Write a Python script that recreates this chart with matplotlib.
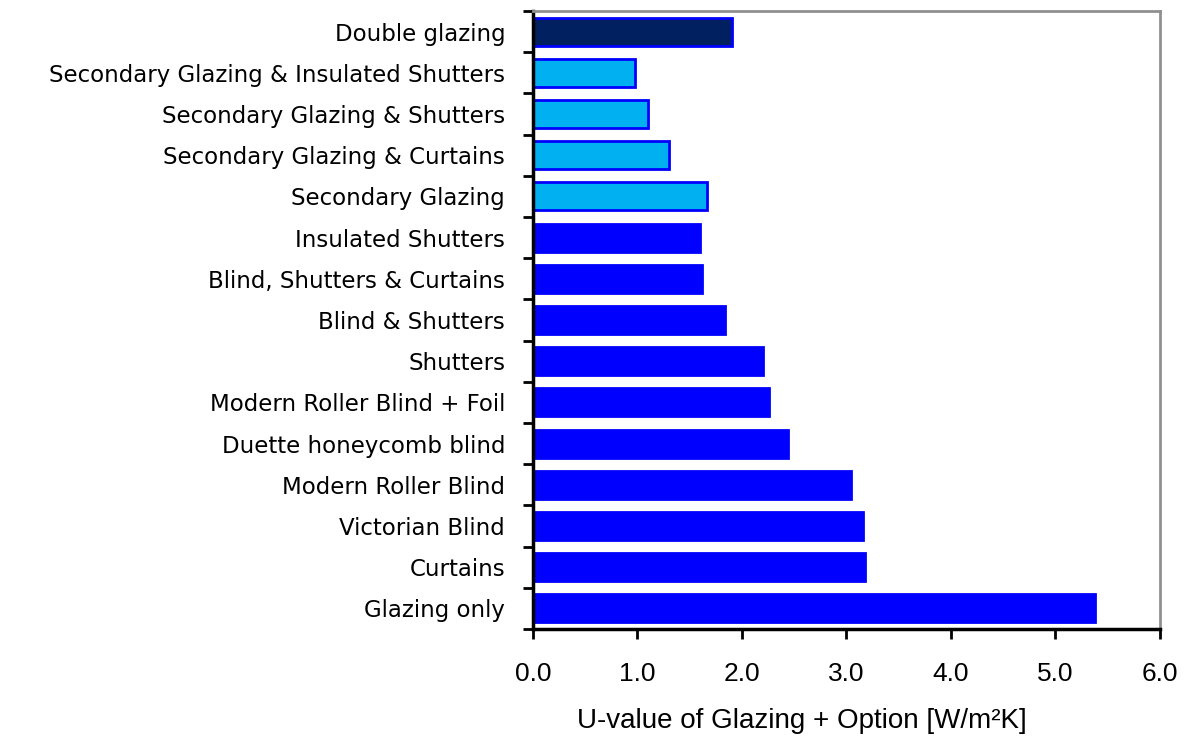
import numpy as np
import matplotlib.pyplot as plt
from matplotlib.ticker import FixedLocator

# Data (top to bottom as shown)
labels = [
    "Double glazing",
    "Secondary Glazing & Insulated Shutters",
    "Secondary Glazing & Shutters",
    "Secondary Glazing & Curtains",
    "Secondary Glazing",
    "Insulated Shutters",
    "Blind, Shutters & Curtains",
    "Blind & Shutters",
    "Shutters",
    "Modern Roller Blind + Foil",
    "Duette honeycomb blind",
    "Modern Roller Blind",
    "Victorian Blind",
    "Curtains",
    "Glazing only",
]
u_values = [1.91, 0.98, 1.10, 1.30, 1.67, 1.60, 1.62, 1.84,
            2.20, 2.26, 2.44, 3.04, 3.16, 3.18, 5.38]
groups = ["double", "secondary", "secondary", "secondary", "secondary"] + ["single"] * 10

colors = {"double": "#002060", "secondary": "#00B0F0", "single": "#0000FF"}

fig = plt.figure(figsize=(11.87, 7.4), dpi=100)
ax = fig.add_axes([0.449, 0.150, 0.528, 0.835])

n = len(labels)
ypos = np.arange(n)[::-1]
ax.barh(ypos, u_values, height=0.68,
        color=[colors[g] for g in groups],
        edgecolor="#0000FF", linewidth=2)

ax.set_xlim(0, 6)
ax.set_ylim(-0.5, n - 0.5)
ax.set_xticks(np.arange(0, 7, 1))
ax.set_xticklabels([f"{v:.1f}" for v in np.arange(0, 7, 1)],
                   fontsize=19, family="Liberation Sans")
ax.set_yticks(ypos)
ax.set_yticklabels(labels, fontsize=16.5, family="DejaVu Sans")
ax.tick_params(axis="y", length=0, pad=20)
ax.yaxis.set_minor_locator(FixedLocator(np.arange(-0.5, n, 1)))
ax.tick_params(axis="y", which="minor", length=7, width=2, color="black")
ax.tick_params(axis="x", length=7, width=2, pad=17, direction="out")

ax.set_xlabel("U-value of Glazing + Option [W/m²K]", fontsize=20,
              family="Liberation Sans")
ax.xaxis.set_label_coords(0.429, -0.128)

for side in ["left", "bottom"]:
    ax.spines[side].set_linewidth(2.5)
    ax.spines[side].set_color("black")
for side in ["top", "right"]:
    ax.spines[side].set_linewidth(2)
    ax.spines[side].set_color("#909090")

fig.savefig("out.png", dpi=100)
